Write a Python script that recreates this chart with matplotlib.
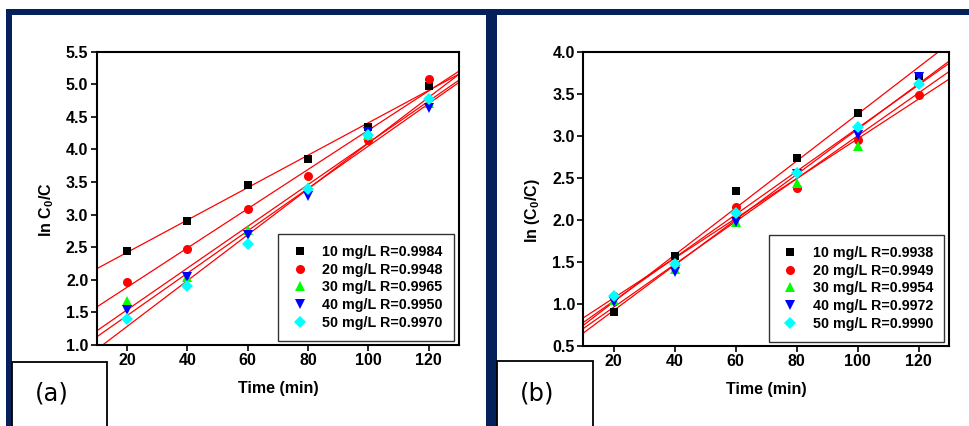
import numpy as np
import matplotlib
matplotlib.use("Agg")
import matplotlib.pyplot as plt
from matplotlib.patches import Rectangle

plt.rcParams['font.family'] = ['Liberation Sans', 'DejaVu Sans']
plt.rcParams['font.weight'] = 'bold'
plt.rcParams['mathtext.fontset'] = 'custom'
plt.rcParams['mathtext.rm'] = 'Liberation Sans:bold'
plt.rcParams['mathtext.it'] = 'Liberation Sans:bold:italic'
plt.rcParams['mathtext.bf'] = 'Liberation Sans:bold'

# ---------------- data ----------------
time = [20, 40, 60, 80, 100, 120]
labels_a = ["10 mg/L R=0.9984", "20 mg/L R=0.9948", "30 mg/L R=0.9965",
            "40 mg/L R=0.9950", "50 mg/L R=0.9970"]
series_a = [
    [2.44, 2.91, 3.45, 3.85, 4.35, 4.98],
    [1.97, 2.47, 3.08, 3.60, 4.15, 5.08],
    [1.67, 2.04, 2.77, 3.42, 4.22, 4.72],
    [1.54, 2.04, 2.69, 3.28, 4.27, 4.64],
    [1.40, 1.91, 2.55, 3.40, 4.22, 4.77],
]
labels_b = ["10 mg/L R=0.9938", "20 mg/L R=0.9949", "30 mg/L R=0.9954",
            "40 mg/L R=0.9972", "50 mg/L R=0.9990"]
series_b = [
    [0.90, 1.57, 2.34, 2.74, 3.27, 3.71],
    [1.10, 1.47, 2.15, 2.38, 2.95, 3.48],
    [1.05, 1.42, 1.98, 2.44, 2.88, 3.65],
    [1.02, 1.38, 1.97, 2.55, 3.01, 3.70],
    [1.09, 1.48, 2.08, 2.56, 3.10, 3.62],
]
markers = ['s', 'o', '^', 'v', 'D']
colors = ['black', '#ff0000', '#00ff00', '#0000ff', '#00ffff']
msizes = [5.5, 6.5, 7, 7, 6]

W, H = 970, 426
fig = plt.figure(figsize=(W / 100, H / 100), dpi=100)


def px_rect(x0, y0, x1, y1):
    return (x0 / W, 1 - y1 / H, (x1 - x0) / W, (y1 - y0) / H)


navy = '#04215c'
for (x0, y0, x1, y1) in [(6, 9, 970, 15), (6, 9, 12.3, 426), (486, 9, 497.3, 426)]:
    l, b, w, h = px_rect(x0, y0, x1, y1)
    fig.add_artist(Rectangle((l, b), w, h, transform=fig.transFigure,
                             facecolor=navy, edgecolor='none', zorder=0))


def panel(rect, series, labels, ylim, yticks, ylabel, label_x):
    ax = fig.add_axes(px_rect(*rect))
    x = np.array(time, dtype=float)
    xx = np.array([10, 130], dtype=float)
    for ys, m, c, ms, lab in zip(series, markers, colors, msizes, labels):
        ys = np.array(ys)
        ax.plot(x, ys, linestyle='none', marker=m, color=c, markersize=ms,
                markeredgewidth=0, label=lab, zorder=3)
        k, b0 = np.polyfit(x, ys, 1)
        ax.plot(xx, k * xx + b0, color='#ff0000', lw=0.9, zorder=2)
    ax.set_xlim(10, 130)
    ax.set_ylim(*ylim)
    ax.set_xticks([20, 40, 60, 80, 100, 120])
    ax.set_yticks(yticks)
    ax.set_yticklabels([f"{v:.1f}" for v in yticks])
    ax.tick_params(direction='out', length=4, width=1.2, labelsize=11.5,
                   top=False, right=False, pad=2)
    for s in ax.spines.values():
        s.set_linewidth(1.5)
    ax.set_xlabel("Time (min)", fontsize=11.5, fontweight='bold', labelpad=9)
    ax.set_ylabel(ylabel, fontsize=11.5, fontweight='bold')
    ax.yaxis.set_label_coords(label_x, 0.46)
    leg = ax.legend(loc='lower right', bbox_to_anchor=(0.986, 0.014),
                    borderaxespad=0, fancybox=False, shadow=False,
                    frameon=True, edgecolor='black', fontsize=10.3,
                    numpoints=1, handlelength=1.4, handletextpad=0.9,
                    borderpad=0.77, labelspacing=0.26)
    leg.get_frame().set_linewidth(1.0)
    for t in leg.get_texts():
        t.set_fontweight('bold')
    return ax


panel((96.7, 51.7, 459, 345), series_a, labels_a, (1.0, 5.5),
      [1.0, 1.5, 2.0, 2.5, 3.0, 3.5, 4.0, 4.5, 5.0, 5.5],
      r"ln C$_{0}$/C", -0.112)
panel((583.3, 51.7, 949.3, 346), series_b, labels_b, (0.5, 4.0),
      [0.5, 1.0, 1.5, 2.0, 2.5, 3.0, 3.5, 4.0],
      r"ln (C$_{\it{0}}$/C)", -0.113)

# (a), (b) label boxes
for (x0, y0, x1, txt, tx) in [(12.3, 361.7, 106.7, "(a)", 51.7),
                              (497.3, 360.7, 593.3, "(b)", 537)]:
    l, b, w, h = px_rect(x0, y0, x1, 430)
    fig.add_artist(Rectangle((l, b), w, h, transform=fig.transFigure,
                             facecolor='white', edgecolor='black', lw=1.3, zorder=1))
    fig.text(tx / W, 1 - 393 / H, txt, fontsize=17.5, fontweight='normal',
             family='DejaVu Sans', ha='center', va='center')

fig.savefig("out.png", dpi=100)
